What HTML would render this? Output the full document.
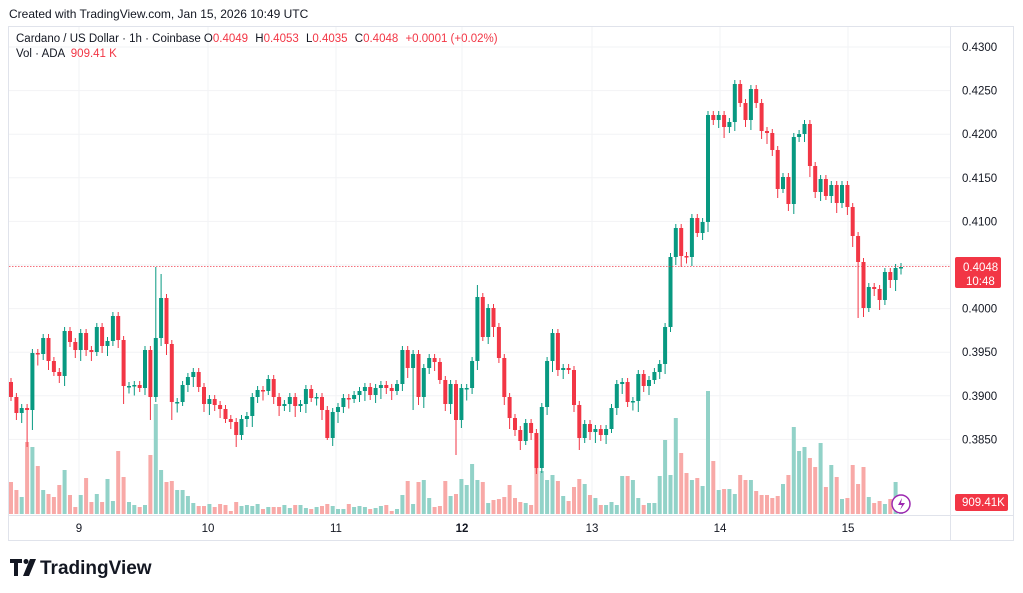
<!DOCTYPE html>
<html><head><meta charset="utf-8"><style>
body{margin:0;background:#fff;width:1023px;height:593px;overflow:hidden;font-family:"Liberation Sans",sans-serif;}
svg{position:absolute;left:0;top:0}
</style></head><body>
<svg id="s" width="1023" height="593" xmlns="http://www.w3.org/2000/svg" font-family="Liberation Sans, sans-serif">
<text x="9" y="18" font-size="12" fill="#131722">Created with TradingView.com, Jan 15, 2026 10:49 UTC</text>
<rect x="8.5" y="26.5" width="1005" height="514" fill="none" stroke="#e0e3eb"/>
<line x1="950.5" y1="27" x2="950.5" y2="540" stroke="#e0e3eb"/>
<line x1="9" y1="515.5" x2="1013" y2="515.5" stroke="#e0e3eb"/>
<g id="grid"></g>
<g id="vol"></g>
<g id="cd"></g>
<line x1="9" y1="266.5" x2="950" y2="266.5" stroke="#f23645" stroke-dasharray="1.5 1.5" stroke-width="1" opacity="0.7"/>
<text x="16" y="42" font-size="11.5" fill="#131722">Cardano / US Dollar · 1h · Coinbase <tspan>O</tspan><tspan fill="#f23645">0.4049</tspan>  <tspan dx="4">H</tspan><tspan fill="#f23645">0.4053</tspan>  <tspan dx="4">L</tspan><tspan fill="#f23645">0.4035</tspan>  <tspan dx="4">C</tspan><tspan fill="#f23645">0.4048</tspan> <tspan dx="4" fill="#f23645">+0.0001 (+0.02%)</tspan></text>
<text x="16" y="57" font-size="11.5" fill="#131722">Vol · ADA <tspan dx="3" fill="#f23645">909.41 K</tspan></text>
<g id="ax" font-size="11.5" fill="#131722"></g>
<rect x="955" y="257" width="46" height="31" rx="2" fill="#f23645"/>
<text x="963" y="271" font-size="11.5" fill="#fff">0.4048</text>
<text x="966" y="285" font-size="11.5" fill="#fff">10:48</text>
<rect x="955" y="494" width="53" height="17" rx="2" fill="#f23645"/>
<text x="962" y="506" font-size="11.5" fill="#fff">909.41K</text>
<circle cx="901" cy="504" r="9" fill="#fff" stroke="#9c27b0" stroke-width="1.5"/>
<path d="M902 498 L898 505 L902 505 L900 510 L905 503 L901 503 Z" fill="#9c27b0"/>
<path d="M10 559 h12 v4 h-4 v13 h-4 v-13 h-4z M30 559 h6 l-7 17 h-6z" fill="#131722"/>
<circle cx="26" cy="561.5" r="2.5" fill="#131722"/>
<text x="40" y="574" font-size="19" font-weight="bold" fill="#131722">TradingView</text>
</svg>
<script>
var cl=[397,413,408,410,353,354,338,361,372,376,331,342,350,333,350,352,327,346,341,316,340,386,386,385,388,350,397,338,298,344,402,402,385,377,372,387,404,399,405,409,419,422,435,419,416,397,390,391,379,397,406,404,397,406,404,389,398,397,410,438,412,407,398,399,395,391,387,395,388,385,388,391,384,350,368,354,397,368,358,362,380,404,384,420,388,388,361,297,337,308,327,358,397,418,430,441,423,433,468,407,361,333,370,368,370,405,438,424,432,429,435,429,408,384,382,402,
401,374,386,380,372,364,327,257,228,256,257,218,233,222,115,120,115,127,122,84,103,120,89,103,131,133,150,189,177,204,137,134,124,166,192,179,196,185,203,185,207,236,262,308,287,289,300,272,280,268,267];
var vh=[32,24,17,72,67,48,24,20,17,29,44,19,7,19,36,12,20,12,35,13,63,37,12,9,7,9,59,110,44,32,33,24,24,18,11,8,8,10,7,10,9,3,12,8,9,8,10,5,7,7,7,9,6,9,9,6,5,7,8,10,8,5,5,10,7,8,7,5,6,8,9,3,5,19,33,10,32,34,16,7,8,33,18,20,35,29,50,34,32,11,14,15,17,29,16,12,11,9,46,43,34,39,33,18,13,27,35,30,19,16,9,9,12,9,38,38,
34,16,9,11,11,38,74,39,96,61,41,34,36,28,123,53,24,25,25,20,39,34,34,23,19,19,16,18,30,39,87,63,67,56,47,71,27,49,37,15,16,49,30,47,17,11,13,10,15,32,7];
var n=cl.length,sp=(901-11)/(n-1),o='',v='',g='';
var opens=[382];for(var i=1;i<n;i++)opens.push(cl[i-1]);
var wk={3:[0,447],4:[0,430],21:[0,404],26:[0,420],27:[267,0],28:[274,0],30:[0,420],42:[0,447],59:[0,440],75:[0,410],83:[0,455],87:[285,0],98:[0,474],106:[0,450],158:[0,318]};
for(var i=0;i<n;i++){var x=11+i*sp,a=opens[i],c=cl[i],up=c<=a,col=up?'#089981':'#f23645';
var t=Math.min(a,c),b=Math.max(a,c);if(b-t<1.5){b=t+1.5;}
var hi=t-4-((i*7)%7),lo=b+4+((i*11)%8);
if(wk[i]){if(wk[i][0])hi=wk[i][0];if(wk[i][1])lo=wk[i][1];}
o+='<line x1="'+x.toFixed(1)+'" x2="'+x.toFixed(1)+'" y1="'+hi+'" y2="'+lo+'" stroke="'+col+'" stroke-width="1"/>';
o+='<rect x="'+(x-2).toFixed(1)+'" y="'+t+'" width="4" height="'+(b-t)+'" fill="'+col+'"/>';
var h=vh[i]||5;v+='<rect x="'+(x-2).toFixed(1)+'" y="'+(514-h)+'" width="4" height="'+h+'" fill="'+(up?'#92d2c8':'#f8a9a7')+'"/>';}
document.getElementById('cd').innerHTML=o;document.getElementById('vol').innerHTML=v;
var ax='';
for(var k=0;k<10;k++){var y=47+k*43.6;g+='<line x1="9" x2="950" y1="'+y.toFixed(1)+'" y2="'+y.toFixed(1)+'" stroke="#f2f3f5"/>';
ax+='<text x="962" y="'+(y+4).toFixed(1)+'">'+(0.43-k*0.005).toFixed(4)+'</text>';}
var days=[[79,'9'],[208,'10'],[336,'11'],[462,'12'],[592,'13'],[720,'14'],[848,'15']];
days.forEach(function(d){g+='<line x1="'+d[0]+'" x2="'+d[0]+'" y1="27" y2="515" stroke="#f2f3f5"/>';
ax+='<text x="'+d[0]+'" y="532" text-anchor="middle"'+(d[1]=='12'?' font-weight="bold"':'')+'>'+d[1]+'</text>';});
document.getElementById('grid').innerHTML=g;document.getElementById('ax').innerHTML=ax;
</script>
</body></html>
